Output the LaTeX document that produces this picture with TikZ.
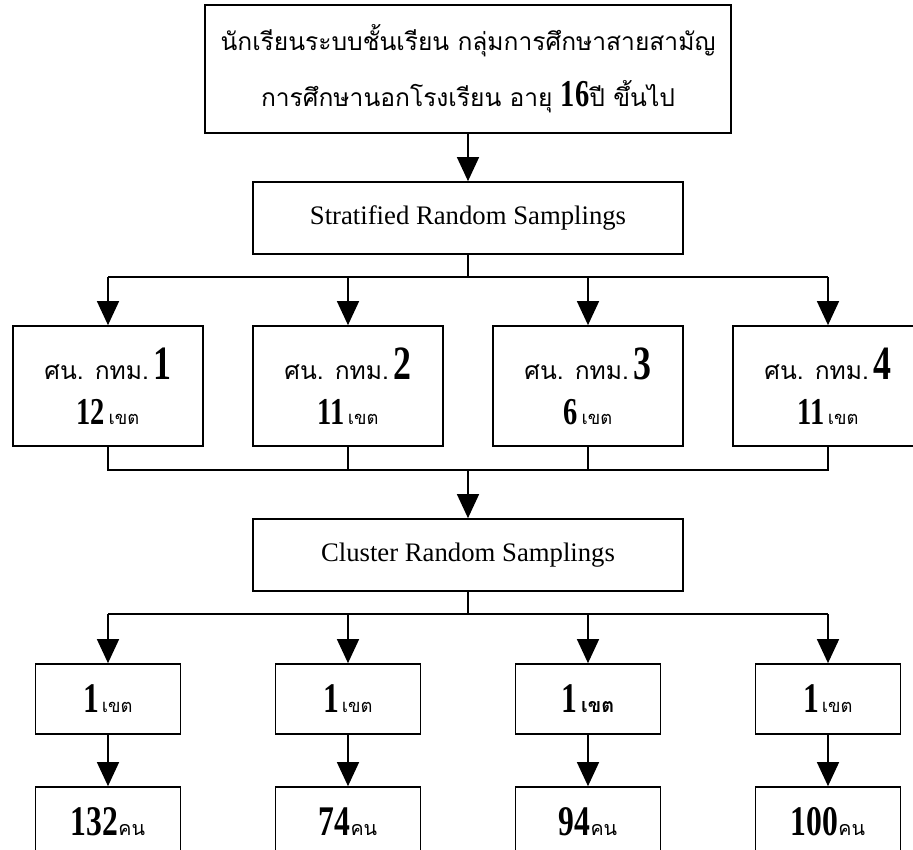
\documentclass[tikz,border=0pt]{standalone}
\usepackage{fontspec}
\usepackage{graphicx}
\setmainfont{Liberation Serif}
\newfontfamily\thai[Script=Thai]{Loma}
\usetikzlibrary{positioning,arrows.meta}

% narrow bold numerals and small Thai words
\newcommand{\bnum}[2]{\scalebox{0.75}[1]{\rmfamily\bfseries\fontsize{#1}{#1}\selectfont #2}}
\newcommand{\tword}[2]{{\thai\fontsize{#1}{#1}\selectfont #2}}

\begin{document}
\begin{tikzpicture}[x=0.025cm,y=-0.025cm]
  \tikzset{box/.style={draw, line width=1.2pt, inner sep=0pt, align=center},
           topbox/.style={box, minimum width=13.15cm, minimum height=3.2cm, font=\thai\fontsize{17.5}{40}\selectfont},
           midbox/.style={box, minimum width=10.75cm, minimum height=1.8cm, font=\fontsize{19}{19}\selectfont},
           areabox/.style={box, minimum width=4.75cm, minimum height=3cm},
           smallbox/.style={box, minimum width=3.625cm, minimum height=1.75cm},
           arr/.style={-{Triangle[width=0.55cm,length=0.6cm]}, line width=1pt},
           bus/.style={line width=1pt}}

  \useasboundingbox (0,0) rectangle (913,849);
  \clip (0,0) rectangle (913,849);

  \node[topbox] (src) at (468,69) {นักเรียนระบบชั้นเรียน กลุ่มการศึกษาสายสามัญ\\
    การศึกษานอกโรงเรียน อายุ \bnum{27}{16}ปี ขึ้นไป};
  \node[midbox] (strat) at (468,218) {Stratified Random Samplings};

  \node[areabox] (c1) at (108,386) {\tword{17.5}{ศน. กทม.} \bnum{34}{1}\\[13pt] \bnum{27}{12} \tword{13}{เขต}};
  \node[areabox] (c2) at (348,386) {\tword{17.5}{ศน. กทม.} \bnum{34}{2}\\[13pt] \bnum{27}{11} \tword{13}{เขต}};
  \node[areabox] (c3) at (588,386) {\tword{17.5}{ศน. กทม.} \bnum{34}{3}\\[13pt] \bnum{27}{6} \tword{13}{เขต}};
  \node[areabox] (c4) at (828,386) {\tword{17.5}{ศน. กทม.} \bnum{34}{4}\\[13pt] \bnum{27}{11} \tword{13}{เขต}};

  \node[midbox] (clus) at (468,555) {Cluster Random Samplings};

  \node[smallbox] (d1) at (108,699) {\bnum{30}{1}\,\tword{13}{เขต}};
  \node[smallbox] (d2) at (348,699) {\bnum{30}{1}\,\tword{13}{เขต}};
  \node[smallbox] (d3) at (588,699) {\bnum{30}{1} \tword{14}{\bfseries เขต}};
  \node[smallbox] (d4) at (828,699) {\bnum{30}{1}\,\tword{13}{เขต}};

  \node[smallbox] (n1) at (108,822) {\bnum{30}{132}\tword{14}{คน}};
  \node[smallbox] (n2) at (348,822) {\bnum{30}{74}\tword{14}{คน}};
  \node[smallbox] (n3) at (588,822) {\bnum{30}{94}\tword{14}{คน}};
  \node[smallbox] (n4) at (828,822) {\bnum{30}{100}\tword{14}{คน}};

  \coordinate (b1) at (468,277);
  \coordinate (b2) at (468,470);
  \coordinate (b3) at (468,614);

  \draw[arr] (src) -- (strat);
  \draw[bus] (strat) -- (b1);
  \draw[bus] (c1 |- b1) -- (c4 |- b1);
  \foreach \i in {1,...,4}
    \draw[arr] (c\i |- b1) -- (c\i);

  \draw[bus] (c1) |- (c4 |- b2) -- (c4);
  \draw[bus] (c2) -- (c2 |- b2);
  \draw[bus] (c3) -- (c3 |- b2);
  \draw[arr] (b2) -- (clus);

  \draw[bus] (clus) -- (b3);
  \draw[bus] (d1 |- b3) -- (d4 |- b3);
  \foreach \i in {1,...,4} {
    \draw[arr] (d\i |- b3) -- (d\i);
    \draw[arr] (d\i) -- (n\i);
  }
\end{tikzpicture}
\end{document}
